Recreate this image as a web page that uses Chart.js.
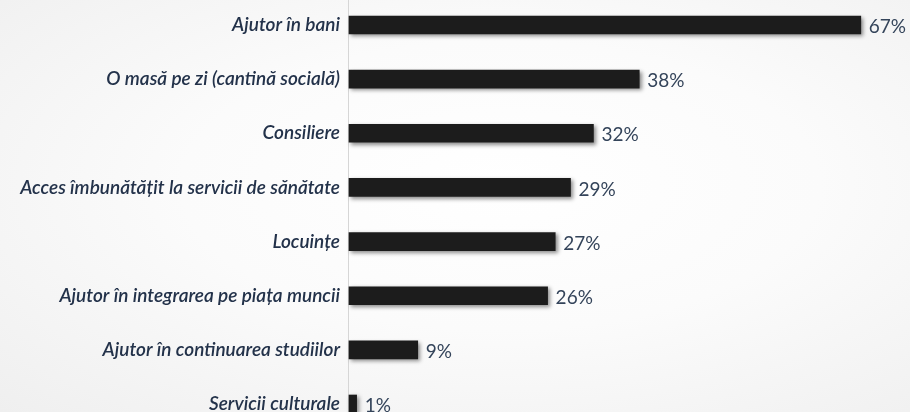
<!DOCTYPE html>
<html>
<head>
<meta charset="utf-8">
<script src="https://cdn.jsdelivr.net/npm/chart.js@4/dist/chart.umd.min.js"></script>
<style>
  html, body { margin: 0; padding: 0; }
  body {
    width: 910px; height: 412px; overflow: hidden;
    background: radial-gradient(ellipse at 55% 45%, #ffffff 0%, #fbfbfb 45%, #efefef 100%);
  }
  #wrap { position: relative; width: 910px; height: 412px; }
</style>
</head>
<body>
<div id="wrap"><canvas id="helpchart"></canvas></div>
<script>
// Data block
const helpLabels = [
    'Ajutor în bani',
    'O masă pe zi (cantină socială)',
    'Consiliere',
    'Acces îmbunătățit la servicii de sănătate',
    'Locuințe',
    'Ajutor în integrarea pe piața muncii',
    'Ajutor în continuarea studiilor',
    'Servicii culturale'
];
const helpValues = [67, 38, 32, 29, 27, 26, 9, 1];

const textColor = '#23324a';

// Axis line plugin: full-height thin line at the left of the bars
const axisLine = {
    id: 'axisLine',
    beforeDatasetsDraw(chart) {
        const ctx = chart.ctx;
        const x = Math.round(chart.chartArea.left) - 0.5;
        ctx.save();
        ctx.strokeStyle = '#d6d6d6';
        ctx.lineWidth = 1;
        ctx.beginPath();
        ctx.moveTo(x, 0);
        ctx.lineTo(x, chart.height);
        ctx.stroke();
        ctx.restore();
    }
};

// Shadow under the bars
const barShadow = {
    id: 'barShadow',
    beforeDatasetDraw(chart) {
        const ctx = chart.ctx;
        ctx.save();
        ctx.shadowColor = 'rgba(0,0,0,0.45)';
        ctx.shadowBlur = 4;
        ctx.shadowOffsetX = 2;
        ctx.shadowOffsetY = 2;
    },
    afterDatasetDraw(chart) {
        chart.ctx.restore();
    }
};

// Value labels at the end of each bar
const valueLabels = {
    id: 'valueLabels',
    afterDatasetsDraw(chart) {
        const ctx = chart.ctx;
        const meta = chart.getDatasetMeta(0);
        ctx.save();
        ctx.font = '19px Lato, "Open Sans", sans-serif';
        ctx.fillStyle = '#34445a';
        ctx.textAlign = 'left';
        ctx.textBaseline = 'middle';
        meta.data.forEach((bar, i) => {
            ctx.fillText(helpValues[i] + '%', bar.x + 8, bar.y + 2);
        });
        ctx.restore();
    }
};

// Config block
const helpConfig = {
    type: 'bar',
    data: {
        labels: helpLabels,
        datasets: [{
            data: helpValues,
            backgroundColor: '#1c1c1c',
            borderWidth: 0,
            barThickness: 18,
            clip: false,
        }]
    },
    options: {
        indexAxis: 'y',
        responsive: false,
        animation: false,
        layout: { padding: { top: 25, bottom: 8, left: 0, right: 11 } },
        plugins: {
            legend: { display: false },
            tooltip: { enabled: false },
        },
        scales: {
            x: {
                display: false,
                min: 0,
                max: 72,
            },
            y: {
                offset: false,
                grid: { display: false, drawTicks: false, offset: false },
                border: { display: false },
                afterFit(scale) {
                    scale.width = 349;
                    scale.paddingTop = 0;
                    scale.paddingBottom = 0;
                },
                ticks: {
                    padding: 9,
                    color: textColor,
                    font: { family: 'Lato, "Open Sans", sans-serif', size: 19, style: 'italic', weight: '600' },
                }
            }
        }
    },
    plugins: [axisLine, barShadow, valueLabels]
};

const canvas = document.getElementById('helpchart');
canvas.width = 910;
canvas.height = 412;
const helpChart = new Chart(canvas, helpConfig);
</script>
</body>
</html>
